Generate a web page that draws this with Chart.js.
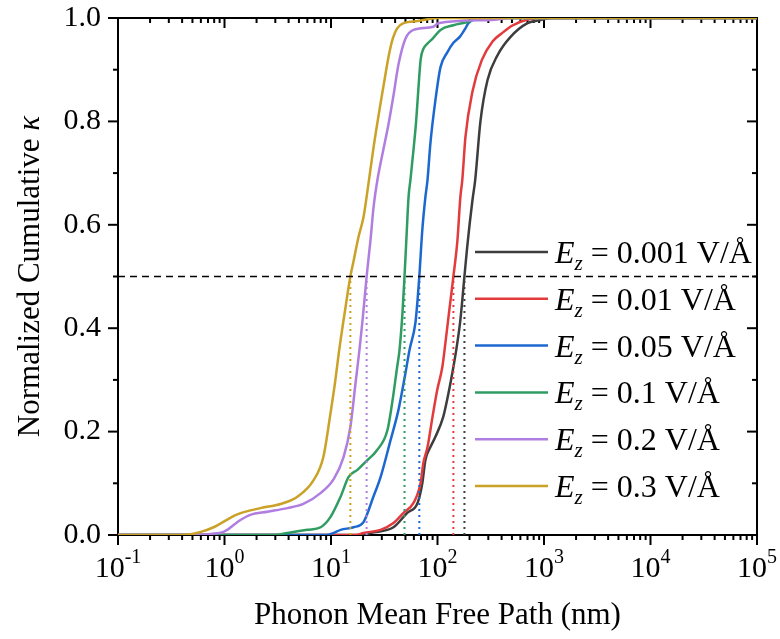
<!DOCTYPE html>
<html>
<head>
<meta charset="utf-8">
<script src="https://cdn.jsdelivr.net/npm/chart.js@4.4.1/dist/chart.umd.min.js"></script>
<style>
  html, body { margin: 0; padding: 0; background: #fff; }
  canvas { display: block; }
</style>
</head>
<body>
<canvas id="c" width="780" height="639"></canvas>
<script>
// field strengths (V/Å) and line colours
const fieldLabels = ['0.001', '0.01', '0.05', '0.1', '0.2', '0.3'];
const seriesColors = ['#3d3d3d', '#e23b3d', '#1c68d0', '#2f9c62', '#b07ee0', '#c9a227'];

// cumulative curves, [mean free path (nm), normalized kappa]
const curve0001 = [[0.1,0],[20,0],[23.5,0.004],[38.6,0.015],[52,0.043],[65,0.062],[72,0.1],[77,0.145],[85.8,0.17],[95.6,0.19],[113,0.228],[127,0.275],[141,0.325],[150,0.358],[164,0.416],[179,0.5],[190,0.557],[213,0.648],[226,0.687],[253,0.8],[295,0.88],[366,0.928],[483,0.963],[700,0.99],[924,0.996],[1200,1],[1e5,1]];
const curve001 = [[0.1,0],[17,0],[20.2,0.004],[29.2,0.01],[38.6,0.023],[48,0.043],[59.5,0.062],[69.3,0.1],[73.6,0.139],[80.6,0.17],[89.7,0.228],[99.3,0.28],[111,0.325],[120,0.38],[130,0.44],[141,0.5],[154,0.571],[164,0.654],[171,0.687],[183,0.77],[213,0.858],[260,0.918],[330,0.955],[400,0.97],[500,0.985],[700,0.997],[900,1],[1e5,1]];
const curve005 = [[0.1,0],[9,0],[10.6,0.004],[12.3,0.01],[16.3,0.015],[20.2,0.025],[25,0.074],[29.2,0.112],[36.3,0.184],[43,0.242],[50,0.313],[54.6,0.358],[62,0.41],[65,0.455],[67.5,0.5],[72,0.59],[77,0.654],[80.6,0.687],[85.8,0.758],[95.6,0.841],[106.7,0.905],[124,0.934],[141,0.952],[164,0.965],[183,0.98],[195,0.99],[250,1],[1e5,1]];
const curve01 = [[0.1,0],[3,0],[3.9,0.004],[6,0.01],[8,0.015],[9.9,0.035],[12.3,0.074],[14.6,0.112],[17.7,0.126],[22,0.145],[27,0.164],[33.9,0.203],[37.8,0.26],[41.8,0.325],[44,0.358],[46.9,0.43],[49,0.5],[51,0.571],[53.5,0.654],[55.7,0.687],[59.5,0.745],[63,0.8],[66.5,0.87],[69.5,0.92],[73.6,0.94],[80,0.95],[90,0.96],[106.7,0.977],[141,0.986],[190,0.992],[250,1],[1e5,1]];
const curve02 = [[0.1,0],[0.6,0],[0.74,0.002],[0.98,0.006],[1.41,0.029],[1.75,0.039],[2.53,0.045],[3.9,0.052],[5.5,0.06],[7.97,0.081],[10.6,0.108],[13.1,0.15],[15.2,0.209],[17,0.294],[18.5,0.358],[19.8,0.416],[21.6,0.5],[23.5,0.571],[25.1,0.634],[27.3,0.687],[31,0.745],[34.7,0.795],[38.6,0.85],[43,0.91],[50,0.96],[59.5,0.977],[91.5,0.983],[101,0.99],[316,0.996],[500,1],[1e5,1]];
const curve03 = [[0.1,0],[0.41,0],[0.6,0.006],[0.79,0.015],[1.32,0.04],[2.18,0.052],[3.36,0.06],[4.84,0.074],[6.86,0.106],[8.5,0.152],[9.9,0.236],[11,0.3],[11.8,0.35],[13.7,0.441],[15.2,0.5],[16.3,0.53],[18.1,0.576],[20.2,0.615],[22.5,0.68],[25.1,0.75],[29.2,0.835],[31.5,0.875],[34.7,0.925],[38,0.96],[41.8,0.98],[48,0.99],[65,0.994],[100,1],[1e5,1]];
const curves = [curve0001, curve001, curve005, curve01, curve02, curve03];

// mean free path where each curve reaches 0.5
const halfMfp = [179, 141, 67.5, 49, 21.6, 15.2];

// axis ticks
const xExponents = [-1, 0, 1, 2, 3, 4, 5];
const yTickValues = [0, 0.2, 0.4, 0.6, 0.8, 1.0];
const yMinorValues = [0.1, 0.3, 0.5, 0.7, 0.9];

const SERIF = '"Liberation Serif", "Times New Roman", serif';

const datasets = [];
curves.forEach((c, i) => {
  datasets.push({
    data: c.map(p => ({ x: p[0], y: p[1] })),
    borderColor: seriesColors[i],
    borderWidth: 2.5,
    pointRadius: 0,
    cubicInterpolationMode: 'monotone',
    order: 10 + (curves.length - i),
  });
});
datasets.push({
  data: [{ x: 0.1, y: 0.5 }, { x: 1e5, y: 0.5 }],
  borderColor: '#000', borderWidth: 1.5, borderDash: [7, 5], pointRadius: 0, order: 1,
});
halfMfp.forEach((m, i) => {
  datasets.push({
    data: [{ x: m, y: 0 }, { x: m, y: 0.5 }],
    borderColor: seriesColors[i], borderWidth: 2, borderDash: [2, 4], pointRadius: 0, order: 2,
  });
});

function seg(ctx, x1, y1, x2, y2) {
  ctx.beginPath(); ctx.moveTo(x1, y1); ctx.lineTo(x2, y2); ctx.stroke();
}

const framePlugin = {
  id: 'frame',
  beforeDatasetsDraw(chart) {
    const { ctx, chartArea: a, scales: { x, y } } = chart;
    ctx.save();
    ctx.strokeStyle = '#000';
    ctx.lineWidth = 2;
    ctx.strokeRect(a.left, a.top, a.right - a.left, a.bottom - a.top);
    // log ticks: bottom outward, top inward
    xExponents.forEach(e => {
      for (let m = 1; m <= 9; m++) {
        const v = m * Math.pow(10, e);
        if (v > x.max * 1.0001) break;
        const px = x.getPixelForValue(v);
        const len = m === 1 ? 10 : 5;
        seg(ctx, px, a.bottom, px, a.bottom + len);
        seg(ctx, px, a.top, px, a.top + len);
      }
    });
    yTickValues.forEach(v => {
      const py = y.getPixelForValue(v);
      seg(ctx, a.left - 10, py, a.left, py);
      seg(ctx, a.right - 10, py, a.right, py);
    });
    yMinorValues.forEach(v => {
      const py = y.getPixelForValue(v);
      seg(ctx, a.left - 5, py, a.left, py);
      seg(ctx, a.right - 5, py, a.right, py);
    });
    ctx.restore();
  },
  afterDraw(chart) {
    const { ctx, chartArea: a, scales: { x, y } } = chart;
    ctx.save();
    ctx.fillStyle = '#000';
    // y tick labels
    ctx.font = `30px ${SERIF}`;
    ctx.textAlign = 'right';
    ctx.textBaseline = 'middle';
    yTickValues.forEach(v => ctx.fillText(v.toFixed(1), a.left - 17, y.getPixelForValue(v)));
    // x tick labels 10^n
    ctx.textAlign = 'left';
    ctx.textBaseline = 'alphabetic';
    xExponents.forEach(e => {
      const px = x.getPixelForValue(Math.pow(10, e));
      ctx.font = `30px ${SERIF}`;
      const wb = ctx.measureText('10').width;
      ctx.font = `20px ${SERIF}`;
      const sup = String(e);
      const ws = ctx.measureText(sup).width;
      const x0 = px - (wb + ws) / 2;
      ctx.font = `30px ${SERIF}`;
      ctx.fillText('10', x0, 577);
      ctx.font = `20px ${SERIF}`;
      ctx.fillText(sup, x0 + wb, 563);
    });
    // x title
    ctx.font = `31px ${SERIF}`;
    ctx.textAlign = 'center';
    ctx.fillText('Phonon Mean Free Path (nm)', (a.left + a.right) / 2, 624);
    // y title with italic kappa
    ctx.translate(31, (a.top + a.bottom) / 2);
    ctx.rotate(-Math.PI / 2);
    ctx.textAlign = 'left';
    ctx.textBaseline = 'middle';
    ctx.font = `31px ${SERIF}`;
    const t1 = 'Normalized Cumulative ';
    const w1 = ctx.measureText(t1).width;
    ctx.font = `italic 31px ${SERIF}`;
    const w2 = ctx.measureText('κ').width;
    ctx.font = `31px ${SERIF}`;
    ctx.fillText(t1, -(w1 + w2) / 2, 0);
    ctx.font = `italic 31px ${SERIF}`;
    ctx.fillText('κ', -(w1 + w2) / 2 + w1, 0);
    ctx.restore();

    // legend
    ctx.save();
    fieldLabels.forEach((lab, i) => {
      const ry = 252 + i * 46.8;
      ctx.strokeStyle = seriesColors[i];
      ctx.lineWidth = 2.5;
      seg(ctx, 475, ry, 548, ry);
      ctx.fillStyle = '#000';
      ctx.textBaseline = 'alphabetic';
      ctx.textAlign = 'left';
      let tx = 555;
      const base = ry + 11;
      ctx.font = `italic 32px ${SERIF}`;
      ctx.fillText('E', tx, base);
      tx += ctx.measureText('E').width;
      ctx.font = `italic 21px ${SERIF}`;
      ctx.fillText('z', tx, base + 7);
      tx += ctx.measureText('z').width;
      ctx.font = `32px ${SERIF}`;
      ctx.fillText(` = ${lab} V/Å`, tx, base);
    });
    ctx.restore();
  },
};

new Chart(document.getElementById('c'), {
  type: 'line',
  data: { datasets },
  options: {
    responsive: false,
    animation: false,
    events: [],
    layout: { padding: { left: 118, right: 23, top: 18, bottom: 104 } },
    scales: {
      x: { type: 'logarithmic', min: 0.1, max: 1e5, display: false },
      y: { type: 'linear', min: 0, max: 1, display: false },
    },
    plugins: { legend: { display: false }, tooltip: { enabled: false } },
  },
  plugins: [framePlugin],
});
</script>
</body>
</html>
